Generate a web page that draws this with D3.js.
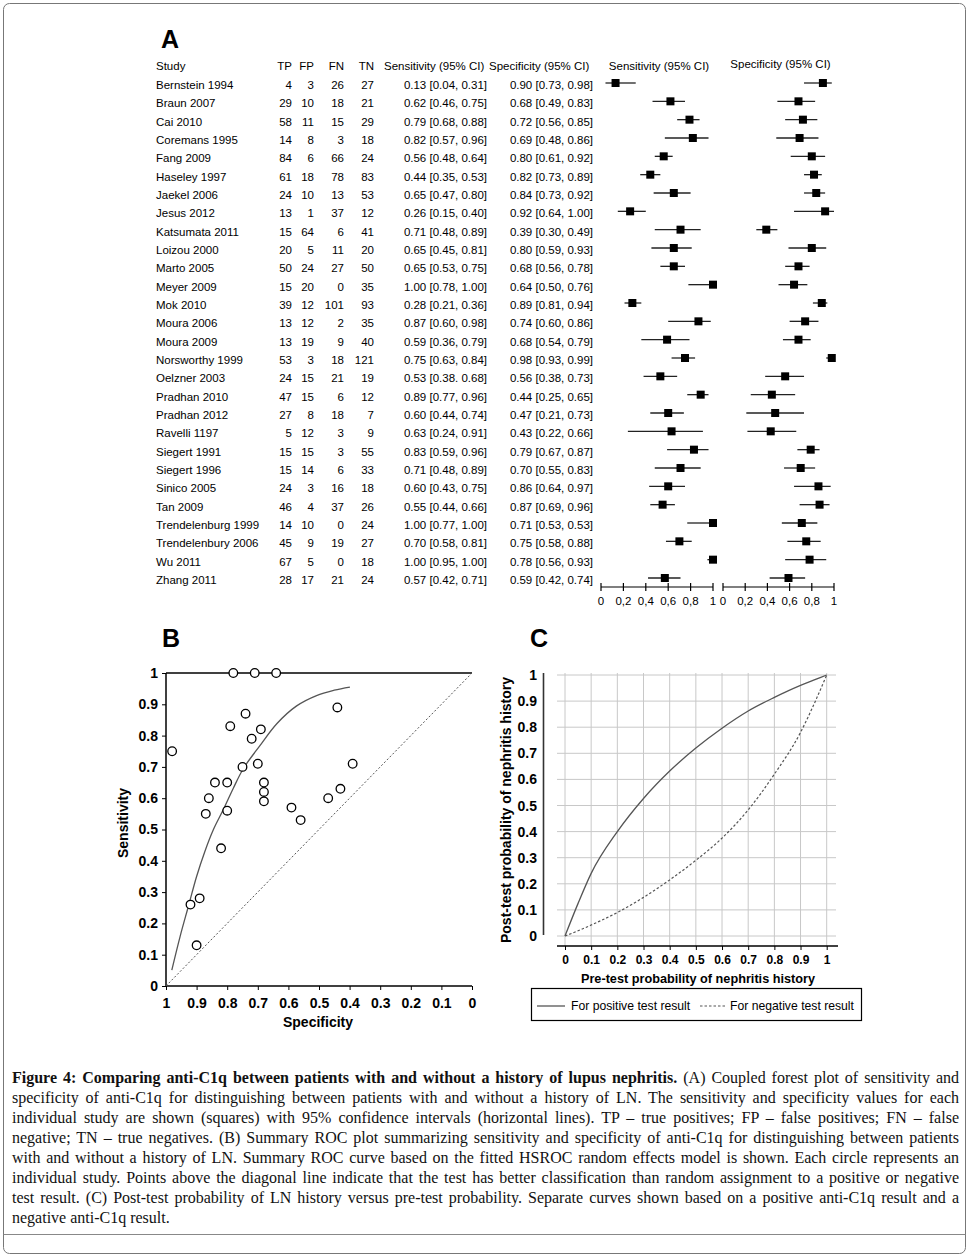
<!DOCTYPE html>
<html>
<head>
<meta charset="utf-8">
<script src="https://cdn.jsdelivr.net/npm/d3@7"></script>
<style>
  body { margin: 0; background: #fff; }
  svg { display: block; }
</style>
</head>
<body>
<svg id="fig"></svg>
<script>
// ---- panel A data ----
const studies = ["Bernstein 1994", "Braun 2007", "Cai 2010", "Coremans 1995", "Fang 2009", "Haseley 1997",
  "Jaekel 2006", "Jesus 2012", "Katsumata 2011", "Loizou 2000", "Marto 2005", "Meyer 2009", "Mok 2010",
  "Moura 2006", "Moura 2009", "Norsworthy 1999", "Oelzner 2003", "Pradhan 2010", "Pradhan 2012",
  "Ravelli 1197", "Siegert 1991", "Siegert 1996", "Sinico 2005", "Tan 2009", "Trendelenburg 1999",
  "Trendelenbury 2006", "Wu 2011", "Zhang 2011"];
const tp = [4, 29, 58, 14, 84, 61, 24, 13, 15, 20, 50, 15, 39, 13, 13, 53, 24, 47, 27, 5, 15, 15, 24, 46, 14, 45, 67, 28];
const fp = [3, 10, 11, 8, 6, 18, 10, 1, 64, 5, 24, 20, 12, 12, 19, 3, 15, 15, 8, 12, 15, 14, 3, 4, 10, 9, 5, 17];
const fn = [26, 18, 15, 3, 66, 78, 13, 37, 6, 11, 27, 0, 101, 2, 9, 18, 21, 6, 18, 3, 3, 6, 16, 37, 0, 19, 0, 21];
const tn = [27, 21, 29, 18, 24, 83, 53, 12, 41, 20, 50, 35, 93, 35, 40, 121, 19, 12, 7, 9, 55, 33, 18, 26, 24, 27, 18, 24];
const sens   = [0.13, 0.62, 0.79, 0.82, 0.56, 0.44, 0.65, 0.26, 0.71, 0.65, 0.65, 1.00, 0.28, 0.87, 0.59, 0.75, 0.53, 0.89, 0.60, 0.63, 0.83, 0.71, 0.60, 0.55, 1.00, 0.70, 1.00, 0.57];
const sensLo = [0.04, 0.46, 0.68, 0.57, 0.48, 0.35, 0.47, 0.15, 0.48, 0.45, 0.53, 0.78, 0.21, 0.60, 0.36, 0.63, 0.38, 0.77, 0.44, 0.24, 0.59, 0.48, 0.43, 0.44, 0.77, 0.58, 0.95, 0.42];
const sensHi = [0.31, 0.75, 0.88, 0.96, 0.64, 0.53, 0.80, 0.40, 0.89, 0.81, 0.75, 1.00, 0.36, 0.98, 0.79, 0.84, 0.68, 0.96, 0.74, 0.91, 0.96, 0.89, 0.75, 0.66, 1.00, 0.81, 1.00, 0.71];
const spec   = [0.90, 0.68, 0.72, 0.69, 0.80, 0.82, 0.84, 0.92, 0.39, 0.80, 0.68, 0.64, 0.89, 0.74, 0.68, 0.98, 0.56, 0.44, 0.47, 0.43, 0.79, 0.70, 0.86, 0.87, 0.71, 0.75, 0.78, 0.59];
const specLo = [0.73, 0.49, 0.56, 0.48, 0.61, 0.73, 0.73, 0.64, 0.30, 0.59, 0.56, 0.50, 0.81, 0.60, 0.54, 0.93, 0.38, 0.25, 0.21, 0.22, 0.67, 0.55, 0.64, 0.69, 0.53, 0.58, 0.56, 0.42];
const specHi = [0.98, 0.83, 0.85, 0.86, 0.92, 0.89, 0.92, 1.00, 0.49, 0.93, 0.78, 0.76, 0.94, 0.86, 0.79, 0.99, 0.73, 0.65, 0.73, 0.66, 0.87, 0.83, 0.97, 0.96, 0.85, 0.88, 0.93, 0.74];
// the printed table has two typos that differ from the plotted intervals
const printedSens = { "Oelzner 2003": "0.53 [0.38. 0.68]" };
const printedSpec = { "Trendelenburg 1999": "0.71 [0.53, 0.53]" };
const forestTicks = [0, 0.2, 0.4, 0.6, 0.8, 1];

// ---- panel B data: fitted HSROC curve ----
const srocSpec = [0.981, 0.954, 0.927, 0.900, 0.873, 0.845, 0.813, 0.780, 0.747, 0.693, 0.638, 0.573, 0.508, 0.450, 0.399];
const srocSens = [0.051, 0.158, 0.254, 0.350, 0.430, 0.500, 0.563, 0.632, 0.695, 0.768, 0.838, 0.895, 0.928, 0.945, 0.955];
const rocTicks = d3.range(0, 11).map(d => d / 10);

// ---- panel C data ----
const preTest = [0, 0.05, 0.1, 0.2, 0.3, 0.4, 0.5, 0.6, 0.7, 0.8, 0.9, 0.95, 1];
const postPos = [0, 0.125, 0.24, 0.40, 0.527, 0.632, 0.72, 0.796, 0.862, 0.914, 0.96, 0.98, 1];
const postNeg = [0, 0.02, 0.042, 0.09, 0.148, 0.215, 0.29, 0.375, 0.483, 0.62, 0.78, 0.885, 1];

// caption: each line is [bold part, regular part]
const captionLines = [
  ["Figure 4: Comparing anti-C1q between patients with and without a history of lupus nephritis.", " (A) Coupled forest plot of sensitivity and"],
  ["", "specificity of anti-C1q for distinguishing between patients with and without a history of LN. The sensitivity and specificity values for each"],
  ["", "individual study are shown (squares) with 95% confidence intervals (horizontal lines). TP \u2013 true positives; FP \u2013 false positives; FN \u2013 false"],
  ["", "negative; TN \u2013 true negatives. (B) Summary ROC plot summarizing sensitivity and specificity of anti-C1q for distinguishing between patients"],
  ["", "with and without a history of LN. Summary ROC curve based on the fitted HSROC random effects model is shown. Each circle represents an"],
  ["", "individual study. Points above the diagonal line indicate that the test has better classification than random assignment to a positive or negative"],
  ["", "test result. (C) Post-test probability of LN history versus pre-test probability. Separate curves shown based on a positive anti-C1q result and a"],
  ["", "negative anti-C1q result."]
];

const SANS = "'Liberation Sans', Arial, sans-serif";
const SERIF = "'Liberation Serif', 'Times New Roman', serif";

const svg = d3.select("#fig")
  .attr("width", 971)
  .attr("height", 1260)
  .style("font-family", SANS);

// outer frame
svg.append("rect")
  .attr("x", 3.5).attr("y", 3.5)
  .attr("width", 962).attr("height", 1250)
  .attr("rx", 6)
  .attr("fill", "none")
  .attr("stroke", "#777");
svg.append("line")
  .attr("x1", 3.5).attr("x2", 965.5)
  .attr("y1", 1234.5).attr("y2", 1234.5)
  .attr("stroke", "#888");

function panelLabel(t, x, y) {
  svg.append("text").attr("x", x).attr("y", y)
    .attr("font-size", 25).attr("font-weight", "bold")
    .text(t);
}

/* ================= Panel A ================= */
panelLabel("A", 161, 48);

var rows = studies.map((s, i) => ({
  study: s, tp: tp[i], fp: fp[i], fn: fn[i], tn: tn[i],
  sens: sens[i], sensLo: sensLo[i], sensHi: sensHi[i],
  spec: spec[i], specLo: specLo[i], specHi: specHi[i]
}));

var y = d3.scalePoint().domain(studies).range([85, 580]);
var f2 = d3.format(".2f");
var ciText = (v, lo, hi) => f2(v) + " [" + f2(lo) + ", " + f2(hi) + "]";

var cols = [
  { key: "study", x: 156, anchor: "start" },
  { key: "tp", x: 292, anchor: "end" },
  { key: "fp", x: 314, anchor: "end" },
  { key: "fn", x: 344, anchor: "end" },
  { key: "tn", x: 374, anchor: "end" },
  { key: "sensTxt", x: 487, anchor: "end" },
  { key: "specTxt", x: 593, anchor: "end" }
];
rows.forEach(r => {
  r.sensTxt = printedSens[r.study] || ciText(r.sens, r.sensLo, r.sensHi);
  r.specTxt = printedSpec[r.study] || ciText(r.spec, r.specLo, r.specHi);
});

var table = svg.append("g").attr("font-size", 11.5).attr("fill", "#000");
// headers
table.append("text").attr("x", 156).attr("y", 70).text("Study");
table.append("text").attr("x", 292).attr("y", 70).attr("text-anchor", "end").text("TP");
table.append("text").attr("x", 314).attr("y", 70).attr("text-anchor", "end").text("FP");
table.append("text").attr("x", 344).attr("y", 70).attr("text-anchor", "end").text("FN");
table.append("text").attr("x", 374).attr("y", 70).attr("text-anchor", "end").text("TN");
table.append("text").attr("x", 384).attr("y", 70).text("Sensitivity (95% CI)");
table.append("text").attr("x", 489).attr("y", 70).text("Specificity (95% CI)");

cols.forEach(c => {
  table.selectAll(null)
    .data(rows)
    .enter().append("text")
    .attr("x", c.x)
    .attr("y", d => y(d.study) + 4)
    .attr("text-anchor", c.anchor)
    .text(d => d[c.key]);
});

// coupled forest plots
function forest(x0, x1, lo, hi, val, title, titleY) {
  var x = d3.scaleLinear().domain([0, 1]).range([x0, x1]);
  var g = svg.append("g");
  g.append("text")
    .attr("x", (x0 + x1) / 2 + 2).attr("y", titleY)
    .attr("text-anchor", "middle")
    .attr("font-size", 11.5)
    .text(title);

  g.selectAll("line.ci")
    .data(rows)
    .enter().append("line")
    .attr("class", "ci")
    .attr("x1", d => x(d[lo]))
    .attr("x2", d => x(d[hi]))
    .attr("y1", d => y(d.study) - 2)
    .attr("y2", d => y(d.study) - 2)
    .attr("stroke", "#222")
    .attr("stroke-width", 1.3);

  g.selectAll("rect.pt")
    .data(rows)
    .enter().append("rect")
    .attr("class", "pt")
    .attr("x", d => x(d[val]) - 4)
    .attr("y", d => y(d.study) - 6)
    .attr("width", 8).attr("height", 8)
    .attr("fill", "#000");

  var ax = g.append("g").attr("transform", "translate(0,587)");
  ax.append("line").attr("x1", x0).attr("x2", x1).attr("stroke", "#000").attr("stroke-width", 1.2);
  ax.selectAll("line.tk")
    .data(forestTicks)
    .enter().append("line")
    .attr("x1", d => x(d)).attr("x2", d => x(d))
    .attr("y1", -4).attr("y2", 4)
    .attr("stroke", "#000").attr("stroke-width", 1.2);
  ax.selectAll("text")
    .data(forestTicks)
    .enter().append("text")
    .attr("x", d => x(d))
    .attr("y", 18)
    .attr("text-anchor", "middle")
    .attr("font-size", 11.5)
    .text(d => (d === 0 || d === 1) ? String(d) : d3.format(".1f")(d).replace(".", ","));
}
forest(601, 713, "sensLo", "sensHi", "sens", "Sensitivity (95% CI)", 70);
forest(723, 834, "specLo", "specHi", "spec", "Specificity (95% CI)", 68);

/* ================= Panel B ================= */
panelLabel("B", 162, 647);

var xB = d3.scaleLinear().domain([1, 0]).range([166, 472]);
var yB = d3.scaleLinear().domain([0, 1]).range([986, 673]);
var gB = svg.append("g");

gB.append("g")
  .attr("transform", "translate(0,986)")
  .call(d3.axisBottom(xB).tickValues(rocTicks).tickSize(4).tickFormat(d3.format("")))
  .call(a => a.select(".domain").attr("d", "M166,0H472").attr("stroke-width", 1.5))
  .call(a => a.selectAll("text").attr("font-size", 14).attr("font-weight", "bold")
    .attr("font-family", SANS).attr("dy", "1.05em"));

gB.append("g")
  .attr("transform", "translate(166,0)")
  .call(d3.axisLeft(yB).tickValues(rocTicks).tickSize(4).tickFormat(d3.format("")))
  .call(a => a.select(".domain").attr("d", "M0,673V986").attr("stroke-width", 1.5))
  .call(a => a.selectAll("text").attr("font-size", 14).attr("font-weight", "bold")
    .attr("font-family", SANS).attr("x", -8));

// top border
gB.append("line").attr("x1", 166).attr("x2", 472).attr("y1", yB(1)).attr("y2", yB(1))
  .attr("stroke", "#000").attr("stroke-width", 1.5);

// chance line
gB.append("line")
  .attr("x1", xB(1)).attr("y1", yB(0)).attr("x2", xB(0)).attr("y2", yB(1))
  .attr("stroke", "#555").attr("stroke-width", 1).attr("stroke-dasharray", "2,2");

var sroc = srocSpec.map((s, i) => ({ spec: s, sens: srocSens[i] }));
gB.append("path")
  .datum(sroc)
  .attr("fill", "none")
  .attr("stroke", "#555")
  .attr("stroke-width", 1.3)
  .attr("d", d3.line().x(d => xB(d.spec)).y(d => yB(d.sens)).curve(d3.curveCatmullRom));

gB.selectAll("circle")
  .data(rows)
  .enter().append("circle")
  .attr("cx", d => xB(d.spec))
  .attr("cy", d => yB(d.sens))
  .attr("r", 4.3)
  .attr("fill", "#fff")
  .attr("stroke", "#000")
  .attr("stroke-width", 1.3);

gB.append("text")
  .attr("x", 318).attr("y", 1027)
  .attr("text-anchor", "middle")
  .attr("font-size", 14).attr("font-weight", "bold")
  .text("Specificity");
gB.append("text")
  .attr("transform", "translate(128,823) rotate(-90)")
  .attr("text-anchor", "middle")
  .attr("font-size", 14).attr("font-weight", "bold")
  .text("Sensitivity");

/* ================= Panel C ================= */
panelLabel("C", 530, 647);

var xC = d3.scaleLinear().domain([0, 1]).range([565, 826.7]);
var yC = d3.scaleLinear().domain([0, 1]).range([936, 675]);
var gC = svg.append("g");

// grid
gC.selectAll("line.vg")
  .data(rocTicks)
  .enter().append("line")
  .attr("x1", d => xC(d)).attr("x2", d => xC(d))
  .attr("y1", 673).attr("y2", 946)
  .attr("stroke", "#c8c8c8");
gC.selectAll("line.hg")
  .data(rocTicks)
  .enter().append("line")
  .attr("x1", 557).attr("x2", 836)
  .attr("y1", d => yC(d)).attr("y2", d => yC(d))
  .attr("stroke", "#c8c8c8");

// left bar and labels
gC.append("line").attr("x1", 543.5).attr("x2", 543.5).attr("y1", 673).attr("y2", 935)
  .attr("stroke", "#333").attr("stroke-width", 1.6);
gC.selectAll("text.yl")
  .data(rocTicks)
  .enter().append("text")
  .attr("x", 537)
  .attr("y", d => yC(d) + 5)
  .attr("text-anchor", "end")
  .attr("font-size", 14).attr("font-weight", "bold")
  .text(d3.format(""));

// bottom axis
gC.append("g")
  .attr("transform", "translate(0,946)")
  .call(d3.axisBottom(xC).tickValues(rocTicks).tickSize(4).tickFormat(d3.format("")))
  .call(a => a.select(".domain").attr("d", "M557,0H838").attr("stroke-width", 1.5))
  .call(a => a.selectAll("text").attr("font-size", 12).attr("font-weight", "bold")
    .attr("font-family", SANS).attr("dy", "0.95em"));

var lineC = d3.line().x(d => xC(d.p)).y(d => yC(d.v)).curve(d3.curveMonotoneX);
gC.append("path")
  .datum(preTest.map((p, i) => ({ p: p, v: postPos[i] })))
  .attr("fill", "none").attr("stroke", "#555").attr("stroke-width", 1.3)
  .attr("d", lineC);
gC.append("path")
  .datum(preTest.map((p, i) => ({ p: p, v: postNeg[i] })))
  .attr("fill", "none").attr("stroke", "#555").attr("stroke-width", 1.2)
  .attr("stroke-dasharray", "2.5,2")
  .attr("d", lineC);

gC.append("text")
  .attr("x", 698).attr("y", 983)
  .attr("text-anchor", "middle")
  .attr("font-size", 12.7).attr("font-weight", "bold")
  .text("Pre-test probability of nephritis history");
gC.append("text")
  .attr("transform", "translate(511,810) rotate(-90)")
  .attr("text-anchor", "middle")
  .attr("font-size", 14).attr("font-weight", "bold")
  .text("Post-test probability of nephritis history");

// legend
var leg = gC.append("g");
leg.append("rect").attr("x", 531.5).attr("y", 988.5).attr("width", 330).attr("height", 32)
  .attr("fill", "none").attr("stroke", "#000").attr("stroke-width", 1.2);
leg.append("line").attr("x1", 537).attr("x2", 565).attr("y1", 1006).attr("y2", 1006)
  .attr("stroke", "#555").attr("stroke-width", 1.3);
leg.append("text").attr("x", 571).attr("y", 1010).attr("font-size", 12.2)
  .text("For positive test result");
leg.append("line").attr("x1", 700).attr("x2", 725).attr("y1", 1006).attr("y2", 1006)
  .attr("stroke", "#555").attr("stroke-width", 1.2).attr("stroke-dasharray", "2.5,2");
leg.append("text").attr("x", 730).attr("y", 1010).attr("font-size", 12.2)
  .text("For negative test result");

/* ================= Caption ================= */
var cap = svg.append("g").attr("font-family", SERIF).attr("font-size", 16).attr("fill", "#111");
captionLines.forEach((parts, i) => {
  var el = cap.append("text").attr("x", 12).attr("y", 1083 + i * 20).attr("xml:space", "preserve");
  if (parts[0]) el.append("tspan").attr("font-weight", "bold").text(parts[0]);
  el.append("tspan").text(parts[1]);
  if (i < captionLines.length - 1) {
    var w = el.node().getComputedTextLength();
    var n = (parts[0] + parts[1]).split(" ").length - 1;
    el.attr("word-spacing", (947 - w) / n);
  }
});
</script>
</body>
</html>
